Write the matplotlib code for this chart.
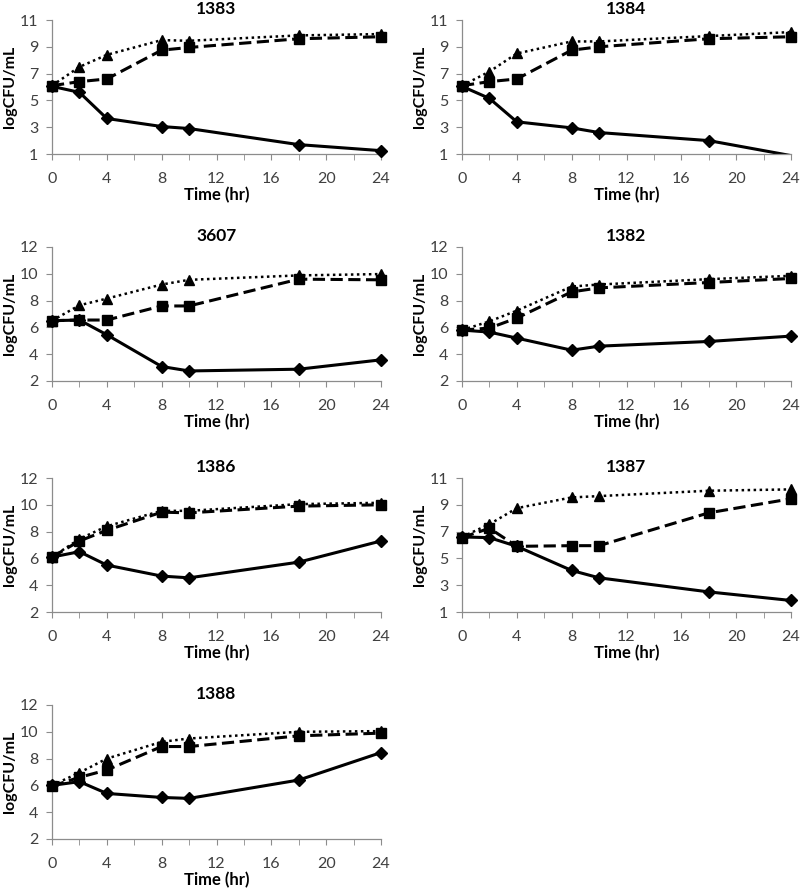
import numpy as np
import matplotlib
matplotlib.use("Agg")
import matplotlib.pyplot as plt

plt.rcParams['font.family'] = ['Lato', 'DejaVu Sans']

time = [0, 2, 4, 8, 10, 18, 24]

strains = ['1383', '1384', '3607', '1382', '1386', '1387', '1388']

# triangle (dotted), square (dashed), diamond (solid) series per strain
triangle = {
    '1383': [6.1, 7.5, 8.4, 9.5, 9.45, 9.85, 9.95],
    '1384': [6.1, 7.15, 8.5, 9.4, 9.4, 9.8, 10.1],
    '3607': [6.5, 7.65, 8.15, 9.2, 9.55, 9.88, 9.98],
    '1382': [5.8, 6.45, 7.25, 9.05, 9.2, 9.6, 9.85],
    '1386': [6.1, 7.45, 8.4, 9.55, 9.55, 10.05, 10.15],
    '1387': [6.6, 7.55, 8.75, 9.55, 9.65, 10.05, 10.15],
    '1388': [6.0, 6.95, 8.0, 9.25, 9.5, 10.0, 10.05],
}
square = {
    '1383': [6.1, 6.4, 6.6, 8.75, 8.95, 9.6, 9.75],
    '1384': [6.1, 6.4, 6.6, 8.75, 9.0, 9.6, 9.75],
    '3607': [6.5, 6.55, 6.55, 7.6, 7.6, 9.6, 9.55],
    '1382': [5.8, 5.95, 6.7, 8.65, 8.95, 9.35, 9.65],
    '1386': [6.1, 7.3, 8.1, 9.45, 9.4, 9.9, 10.0],
    '1387': [6.55, 7.25, 5.9, 5.95, 5.95, 8.4, 9.45],
    '1388': [5.95, 6.6, 7.15, 8.9, 8.9, 9.7, 9.9],
}
diamond = {
    '1383': [6.05, 5.6, 3.65, 3.05, 2.9, 1.7, 1.25],
    '1384': [6.05, 5.15, 3.4, 2.95, 2.6, 2.0, 0.88],
    '3607': [6.5, 6.55, 5.45, 3.08, 2.75, 2.88, 3.58],
    '1382': [5.8, 5.65, 5.2, 4.3, 4.6, 4.95, 5.35],
    '1386': [6.1, 6.5, 5.5, 4.68, 4.55, 5.72, 7.3],
    '1387': [6.6, 6.55, 5.9, 4.1, 3.55, 2.5, 1.86],
    '1388': [6.0, 6.28, 5.4, 5.1, 5.03, 6.4, 8.45],
}

y_ranges = {
    '1383': (1, 11, 2), '1384': (1, 11, 2), '3607': (2, 12, 2), '1382': (2, 12, 2),
    '1386': (2, 12, 2), '1387': (1, 11, 2), '1388': (2, 12, 2),
}

W, H = 800, 891
fig = plt.figure(figsize=(8, 8.91), dpi=100)

lefts = [52, 462]
bottoms = [154, 381, 612, 839]
aw, ah = 329, 134

grey = '#404040'

for k, s in enumerate(strains):
    r, c = divmod(k, 2)
    ax = fig.add_axes([lefts[c] / W, 1 - bottoms[r] / H, aw / W, ah / H])
    lo, hi, step = y_ranges[s]

    for vals, ls, mk, ms, lw in [(triangle[s], (0, (1, 1.4)), '^', 7, 1.8),
                                 (square[s], (0, (4, 1.8)), 's', 7.5, 2.2),
                                 (diamond[s], '-', 'D', 6.5, 2.2)]:
        vals = np.array(vals)
        ax.plot(time, vals, color='black', linestyle=ls, linewidth=lw)
        keep = vals >= lo
        ax.plot(np.array(time)[keep], vals[keep], linestyle='none', marker=mk,
                markersize=ms, color='black', clip_on=False, zorder=3)

    ax.set_xlim(0, 24)
    ax.set_ylim(lo, hi)
    ax.set_xticks(range(0, 25, 4))
    ax.set_xticks(range(0, 25, 2), minor=True)
    ax.set_yticks(np.arange(lo, hi + 0.1, step))
    ax.spines['top'].set_visible(False)
    ax.spines['right'].set_visible(False)
    for sp in ['left', 'bottom']:
        ax.spines[sp].set_color('#8c8c8c')
        ax.spines[sp].set_linewidth(0.9)
    ax.tick_params(axis='both', which='both', color='#8c8c8c', labelcolor=grey,
                   labelsize=11.5, length=4, direction='out')
    ax.tick_params(axis='x', which='major', pad=9)
    ax.tick_params(axis='y', which='major', pad=6)
    ax.set_title(s, fontsize=12.5, fontweight='bold', pad=4)
    ax.set_xlabel('Time (hr)', fontsize=12, fontweight='bold', labelpad=1)
    ax.set_ylabel('logCFU/mL', fontsize=11.5, fontweight='bold')
    ax.yaxis.set_label_coords(-0.105, 0.5)
    ax.patch.set_alpha(0)

fig.savefig('out.png', dpi=100, facecolor='white')
